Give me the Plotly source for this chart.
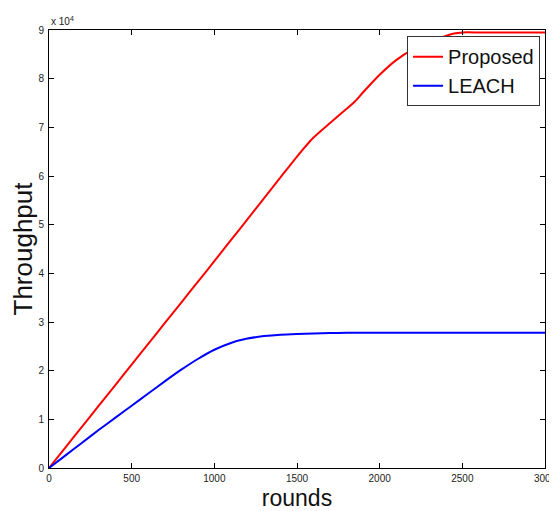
import plotly.graph_objects as go

rounds = [0, 100, 200, 300, 400, 500, 600, 700, 800, 900, 1000, 1100, 1200, 1300, 1400,
          1500, 1600, 1700, 1800, 1850, 1900, 2000, 2100, 2200, 2300, 2400, 2450, 2500,
          2600, 2700, 2800, 2900, 3000]
# throughput in units of 10^4
proposed = [0, 0.425, 0.85, 1.275, 1.70, 2.125, 2.55, 2.975, 3.40, 3.825, 4.25, 4.68,
            5.11, 5.54, 5.97, 6.40, 6.79, 7.09, 7.38, 7.53, 7.72, 8.08, 8.38, 8.60, 8.76,
            8.88, 8.93, 8.95, 8.95, 8.95, 8.95, 8.95, 8.95]
leach = [0, 0.26, 0.52, 0.78, 1.03, 1.28, 1.53, 1.78, 2.02, 2.24, 2.43, 2.57, 2.66,
         2.71, 2.74, 2.755, 2.765, 2.772, 2.778, 2.78, 2.78, 2.78, 2.78, 2.78, 2.78, 2.78,
         2.78, 2.78, 2.78, 2.78, 2.78, 2.78, 2.78]
x_ticks = [0, 500, 1000, 1500, 2000, 2500, 3000]
y_ticks = [0, 1, 2, 3, 4, 5, 6, 7, 8, 9]

FONT = "Liberation Sans, Arial, sans-serif"

fig = go.Figure()
fig.add_trace(go.Scatter(x=rounds, y=proposed, mode="lines", name="Proposed",
                         line=dict(color="#ff0000", width=2, shape="spline", smoothing=0.6)))
fig.add_trace(go.Scatter(x=rounds, y=leach, mode="lines", name="LEACH",
                         line=dict(color="#0000ff", width=2, shape="spline", smoothing=0.5)))

axis_common = dict(showgrid=False, zeroline=False, showline=True, linecolor="#000",
                   linewidth=1, mirror="ticks", ticks="inside", ticklen=5,
                   tickcolor="#000", automargin=False,
                   tickfont=dict(family=FONT, size=10, color="#222"))

# the page body adds an 8px offset, so the figure is 8px smaller and top/left margins shifted
fig.update_layout(
    width=549, height=503,
    margin=dict(l=41, r=12, t=22, b=43),
    paper_bgcolor="white", plot_bgcolor="white",
    font=dict(family=FONT, color="#111"),
    xaxis=dict(range=[0, 3000], tickvals=x_ticks, ticklabelstandoff=1,
               title=dict(text="rounds", font=dict(family=FONT, size=23, color="#111"),
                          standoff=8),
               **axis_common),
    yaxis=dict(range=[0, 9], tickvals=y_ticks, ticklabelstandoff=2,
               title=dict(text="Throughput", font=dict(family=FONT, size=26, color="#111"),
                          standoff=0),
               **axis_common),
    legend=dict(x=0.99, y=0.986, xanchor="right", yanchor="top",
                bgcolor="white", bordercolor="#333", borderwidth=1,
                font=dict(family=FONT, size=20, color="#111"),
                tracegroupgap=0, itemwidth=30),
    showlegend=True,
)
fig.add_annotation(xref="paper", yref="paper", x=0, y=1, xanchor="left", yanchor="bottom",
                   text="x 10<sup>4</sup>", showarrow=False, yshift=1,
                   font=dict(family=FONT, size=10, color="#222"))

fig.write_html("out.html")
